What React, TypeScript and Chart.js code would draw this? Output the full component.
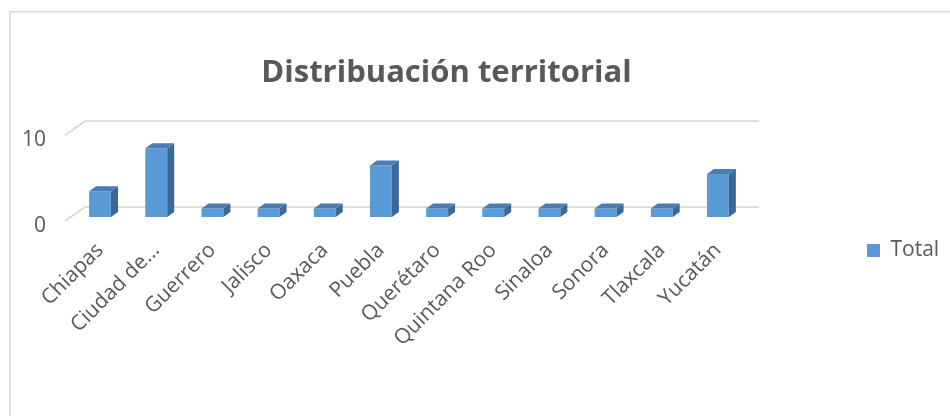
import React, { useEffect, useRef } from "react";
import { Chart, registerables } from "chart.js";

Chart.register(...registerables);

const categories = [
  "Chiapas",
  "Ciudad de...",
  "Guerrero",
  "Jalisco",
  "Oaxaca",
  "Puebla",
  "Querétaro",
  "Quintana Roo",
  "Sinaloa",
  "Sonora",
  "Tlaxcala",
  "Yucatán",
];
const totals = [3, 8, 1, 1, 1, 6, 1, 1, 1, 1, 1, 5];
const yTicks = [0, 10];
const seriesName = "Total";
const chartTitle = "Distribuación territorial";

const FRONT = "#5B9BD5";
const TOP = "#4A7DB5";
const SIDE = "#3B6894";
const GRID = "#D9D9D9";
const TEXT = "#595959";
const FONT = "'Open Sans', 'Noto Sans', sans-serif";
const DX = 7;
const DY = 5;

const framePlugin = {
  id: "frame",
  beforeDraw(chart: any) {
    const ctx = chart.ctx;
    ctx.save();
    ctx.strokeStyle = GRID;
    ctx.lineWidth = 1.5;
    ctx.beginPath();
    ctx.moveTo(10, 2000);
    ctx.lineTo(10, 11.75);
    ctx.lineTo(2000, 11.75);
    ctx.stroke();
    ctx.restore();
  },
};

const positionPlugin = {
  id: "positions",
  afterLayout(chart: any) {
    const t = chart.titleBlock;
    if (t) {
      t.left = 0;
      t.right = 893;
    }
    const lg = chart.legend;
    if (lg) {
      const w = lg.width;
      const h = lg.height;
      lg.left = 857;
      lg.right = 857 + w;
      lg.top = 230;
      lg.bottom = 230 + h;
    }
  },
};

const wallPlugin = {
  id: "walls",
  beforeDatasetsDraw(chart: any) {
    const ctx = chart.ctx;
    const y = chart.scales.y;
    const { left, right } = chart.chartArea;
    ctx.save();
    ctx.strokeStyle = GRID;
    ctx.lineWidth = 1.75;
    yTicks.forEach((v) => {
      const py = y.getPixelForValue(v);
      ctx.beginPath();
      ctx.moveTo(left - 7, py + 4);
      ctx.lineTo(left + 13, py - 10);
      ctx.lineTo(right + 13, py - 10);
      ctx.stroke();
    });
    ctx.restore();
  },
};

const bar3dPlugin = {
  id: "bar3d",
  afterDatasetsDraw(chart: any) {
    const ctx = chart.ctx;
    const meta = chart.getDatasetMeta(0);
    ctx.save();
    meta.data.forEach((el: any) => {
      const { x, y, base, width } = el.getProps(["x", "y", "base", "width"], true);
      const l = x - width / 2;
      const r = x + width / 2;
      ctx.fillStyle = SIDE;
      ctx.beginPath();
      ctx.moveTo(r, y);
      ctx.lineTo(r + DX, y - DY);
      ctx.lineTo(r + DX, base - DY);
      ctx.lineTo(r, base);
      ctx.closePath();
      ctx.fill();
      ctx.fillStyle = TOP;
      ctx.beginPath();
      ctx.moveTo(l, y);
      ctx.lineTo(l + DX, y - DY);
      ctx.lineTo(r + DX, y - DY);
      ctx.lineTo(r, y);
      ctx.closePath();
      ctx.fill();
    });
    ctx.restore();
  },
};

export default function App() {
  const ref = useRef<HTMLCanvasElement>(null);

  useEffect(() => {
    document.body.style.margin = "0";
    document.body.style.overflow = "hidden";
    const canvas = ref.current;
    if (!canvas) return;
    const chart = new Chart(canvas, {
      type: "bar",
      data: {
        labels: categories,
        datasets: [
          {
            label: seriesName,
            data: totals,
            backgroundColor: FRONT,
            borderWidth: 0,
            categoryPercentage: 1,
            barPercentage: 0.39,
          },
        ],
      },
      options: {
        responsive: false,
        animation: false,
        devicePixelRatio: 1,
        layout: { padding: { left: 0, top: 0, right: 204, bottom: 0 } },
        plugins: {
          tooltip: { enabled: false },
          title: {
            display: true,
            text: chartTitle,
            color: TEXT,
            font: { family: FONT, size: 31, weight: "bold", lineHeight: 1.2 },
            padding: { top: 55, bottom: 39 },
          },
          legend: {
            display: true,
            position: "chartArea",
            align: "start",
            labels: {
              boxWidth: 13,
              boxHeight: 13,
              color: TEXT,
              padding: 10,
              font: { family: FONT, size: 21 },
            },
          },
        },
        scales: {
          x: {
            grid: { display: false },
            border: { display: false },
            afterFit(scale: any) {
              scale.height = 199;
            },
            ticks: {
              autoSkip: false,
              maxRotation: 45,
              minRotation: 45,
              padding: 13,
              color: TEXT,
              font: { family: FONT, size: 21 },
            },
          },
          y: {
            min: 0,
            max: 10,
            grid: { display: false },
            border: { display: false },
            afterFit(scale: any) {
              scale.width = 72;
            },
            afterBuildTicks(scale: any) {
              scale.ticks = yTicks.map((v) => ({ value: v }));
            },
            ticks: {
              padding: 18,
              labelOffset: 9,
              color: TEXT,
              font: { family: FONT, size: 21 },
            },
          },
        },
      },
      plugins: [framePlugin, positionPlugin, wallPlugin, bar3dPlugin],
    } as any);
    return () => chart.destroy();
  }, []);

  return (
    <canvas
      ref={ref}
      width={950}
      height={416}
      style={{ display: "block", width: 950, height: 416 }}
    />
  );
}
